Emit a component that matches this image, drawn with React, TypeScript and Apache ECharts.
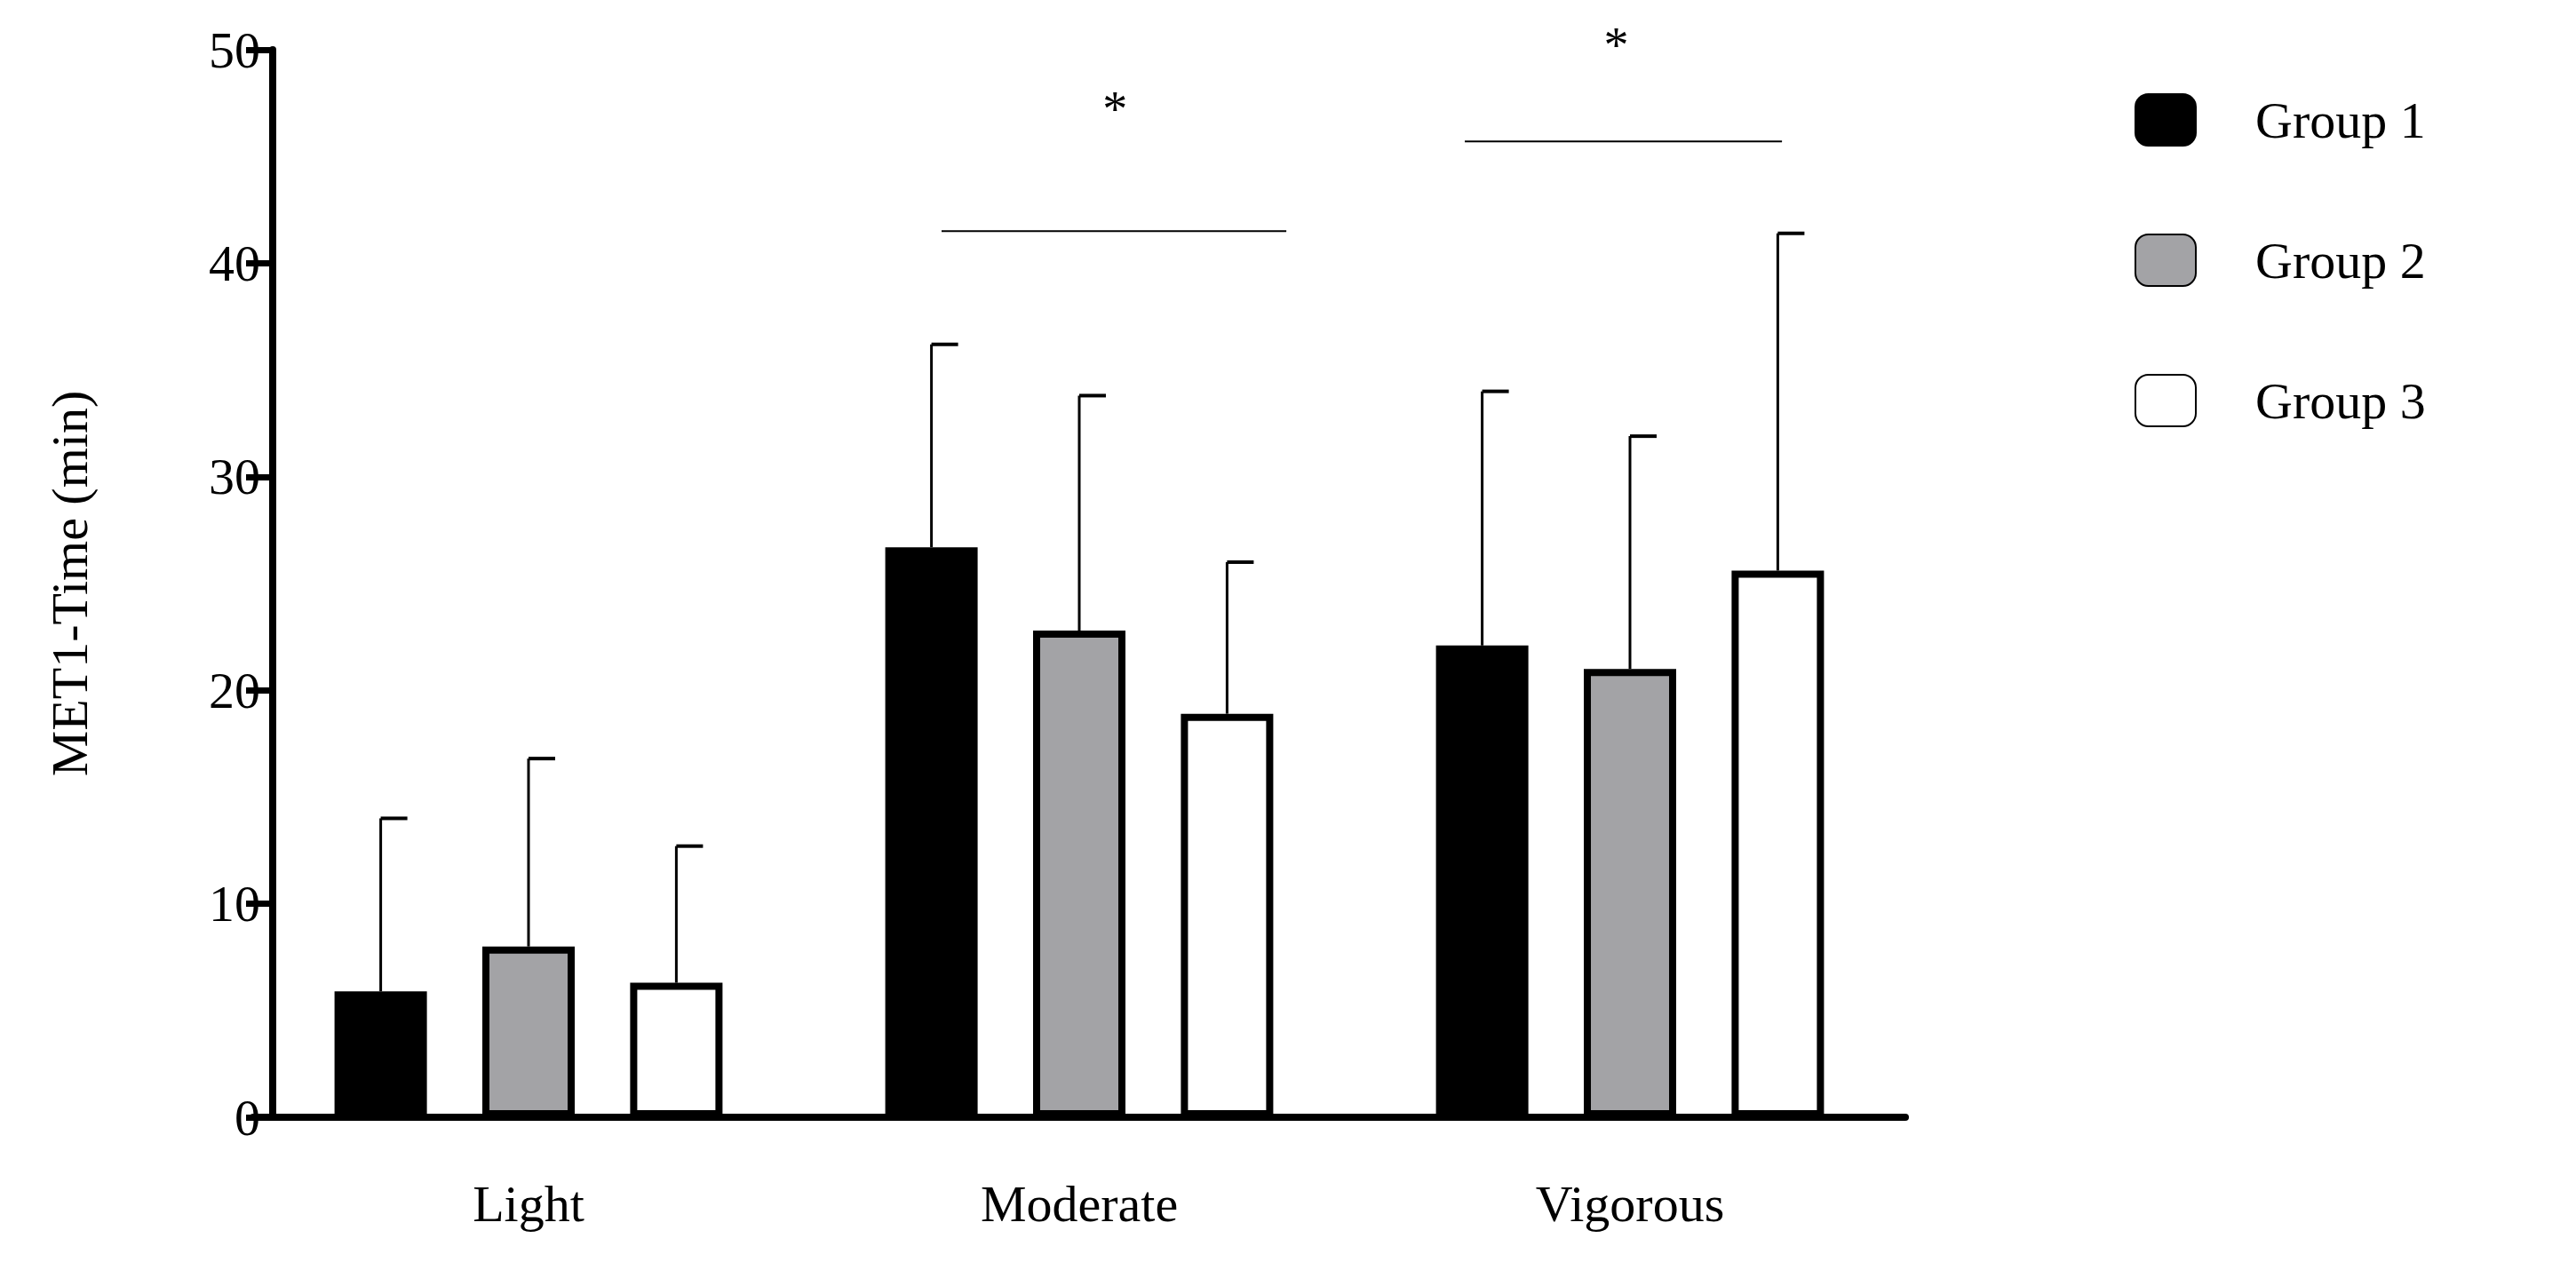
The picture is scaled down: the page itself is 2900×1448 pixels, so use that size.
import { useRef, useEffect } from 'react'
import * as echarts from 'echarts'

const CATEGORIES = ['Light', 'Moderate', 'Vigorous']
const GROUPS = ['Group 1', 'Group 2', 'Group 3']
const GROUP_FILL = ['#000000', '#a3a3a6', '#ffffff']
const MEANS = [
  [5.9, 26.7, 22.1],
  [8.0, 22.8, 21.0],
  [6.3, 18.9, 25.6],
]
const ERR_TOPS = [
  [14.0, 36.2, 34.0],
  [16.8, 33.8, 31.9],
  [12.7, 26.0, 41.4],
]
// [category index, y, start offset, end offset] in category widths
const SIG_LINES = [
  [1, 41.5, -0.25, 0.376],
  [2, 45.7, -0.3, 0.276],
]
const SIG_STARS = [
  [1, 47.2],
  [2, 50.2],
]
const Y_TICKS = [0, 10, 20, 30, 40, 50]

const FONT = '"Liberation Serif", serif'
const BAR_W = 104
const GAP = '60%'

export default function App() {
  const ref = useRef<HTMLDivElement>(null)

  useEffect(() => {
    document.body.style.margin = '0'
    const chart = echarts.init(ref.current!, null, { renderer: 'svg' })
    const groupOffset = (g: number) => (g - 1) * (BAR_W + 0.6 * BAR_W)

    const barSeries = GROUPS.map((name, g) => ({
      name,
      type: 'bar' as const,
      data: MEANS[g],
      barWidth: BAR_W,
      barGap: GAP,
      itemStyle: { color: GROUP_FILL[g], borderColor: '#000', borderWidth: 8 },
      z: 3,
    }))

    const errSeries = GROUPS.map((_, g) => ({
      type: 'custom' as const,
      data: ERR_TOPS[g].map((top, i) => [i, MEANS[g][i], top]),
      z: 2,
      silent: true,
      renderItem: (_p: any, api: any) => {
        const base = api.coord([api.value(0), api.value(1)])
        const top = api.coord([api.value(0), api.value(2)])
        const x = base[0] + groupOffset(g)
        return {
          type: 'group',
          children: [
            { type: 'line', shape: { x1: x, y1: base[1], x2: x, y2: top[1] }, style: { stroke: '#000', lineWidth: 3 } },
            { type: 'line', shape: { x1: x, y1: top[1], x2: x + 30, y2: top[1] }, style: { stroke: '#000', lineWidth: 4 } },
          ],
        }
      },
    }))

    chart.setOption({
      animation: false,
      backgroundColor: '#fff',
      grid: { left: 285, right: 755, top: 56, bottom: 190 },
      legend: {
        orient: 'vertical',
        left: 2398,
        top: 100,
        itemWidth: 68,
        itemHeight: 58,
        itemGap: 98,
        data: GROUPS,
        textStyle: { fontFamily: FONT, fontSize: 58, color: '#000', padding: [0, 0, 0, 62] },
      },
      xAxis: {
        type: 'category',
        data: CATEGORIES,
        axisLine: { lineStyle: { color: '#000', width: 8 } },
        axisTick: { alignWithLabel: true, length: 52, lineStyle: { color: '#000', width: 7 } },
        axisLabel: { fontFamily: FONT, fontSize: 58, color: '#000', margin: 68 },
      },
      yAxis: {
        type: 'value',
        min: 0,
        max: 50,
        interval: 10,
        offset: -22,
        name: 'MET1-Time (min)',
        nameLocation: 'middle',
        nameGap: 200,
        nameTextStyle: { fontFamily: FONT, fontSize: 58, color: '#000' },
        axisLine: { show: true, lineStyle: { color: '#000', width: 8 } },
        axisTick: { show: true, length: 30, lineStyle: { color: '#000', width: 7 } },
        axisLabel: {
          fontFamily: FONT,
          fontSize: 58,
          color: '#000',
          margin: 14,
          formatter: (v: number) => (Y_TICKS.includes(v) ? String(v) : ''),
        },
        splitLine: { show: false },
      },
      series: [
        ...barSeries,
        ...errSeries,
        {
          type: 'custom',
          data: SIG_LINES,
          silent: true,
          renderItem: (_p: any, api: any) => {
            const c = api.coord([api.value(0), api.value(1)])
            const w = api.size([1, 0])[0]
            return {
              type: 'line',
              shape: { x1: c[0] + api.value(2) * w, y1: c[1], x2: c[0] + api.value(3) * w, y2: c[1] },
              style: { stroke: '#000', lineWidth: 2 },
            }
          },
        },
        {
          type: 'custom',
          data: SIG_STARS,
          silent: true,
          renderItem: (_p: any, api: any) => {
            const c = api.coord([api.value(0), api.value(1)])
            const w = api.size([1, 0])[0]
            return {
              type: 'text',
              x: c[0] + 0.065 * w - (api.value(0) === 2 ? 0.09 * w : 0),
              y: c[1],
              style: { text: '*', font: `56px ${FONT}`, fill: '#000', align: 'center', verticalAlign: 'middle' },
            }
          },
        },
      ],
    })
    return () => chart.dispose()
  }, [])

  return <div ref={ref} style={{ width: 2900, height: 1448 }} />
}
